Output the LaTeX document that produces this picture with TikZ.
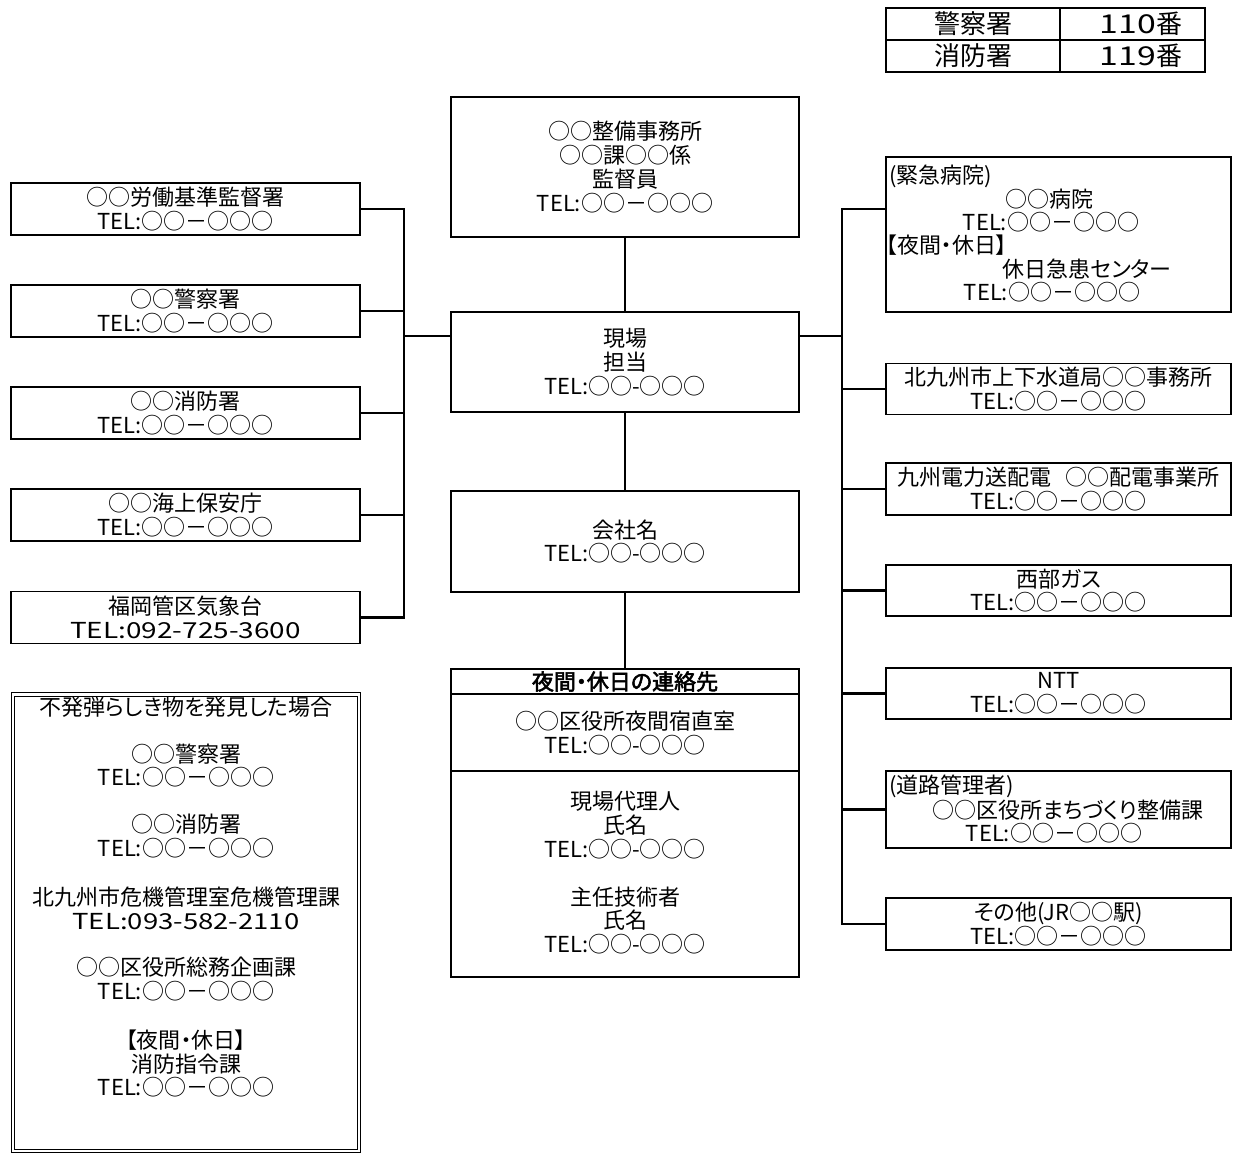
\documentclass[tikz,border=0pt]{standalone}
\usepackage{fontspec}
\setmainfont{Noto Sans CJK JP}[AutoFakeBold=2.5, RawFeature=+palt]
\newcommand\fsz{\fontsize{22}{23.75}\selectfont}
\newcommand\fbig{\fontsize{26}{26}\selectfont}
\newcommand\widen[2]{\scalebox{#1}[1]{#2}}
\tikzset{
  bx/.style={draw, line width=1.3pt, inner sep=0pt, align=center, font=\fsz},
  ln/.style={line width=2.2pt},
  tx/.style={inner sep=0pt, align=center, font=\fsz},
  lb/.style={bx, minimum width=349pt, minimum height=52pt},
  cb/.style={bx, minimum width=348pt},
  rb/.style={bx, minimum width=345pt, minimum height=51pt},
}
\begin{document}
\begin{tikzpicture}[x=1pt,y=-1pt]
\useasboundingbox (0,0) rectangle (1233,1156);
% top right table
\draw[line width=1.3pt] (886,8) rectangle (1205,72);
\draw[line width=1.3pt] (886,40) -- (1205,40) (1060,8) -- (1060,72);
\node[tx,font=\fbig] (ta) at (973,24) {警察署};
\node[tx,font=\fbig] (tb) at (1141,24) {\widen{1.3}{110}番};
\node[tx,font=\fbig] (tc) at (973,56) {消防署};
\node[tx,font=\fbig] (td) at (1141,56) {\widen{1.3}{119}番};
% left boxes
\node[lb] (l1) at (185.5,209) {○○労働基準監督署\\TEL:○○－○○○};
\node[lb] (l2) at (185.5,311) {○○警察署\\TEL:○○－○○○};
\node[lb] (l3) at (185.5,413) {○○消防署\\TEL:○○－○○○};
\node[lb] (l4) at (185.5,515) {○○海上保安庁\\TEL:○○－○○○};
\node[lb] (l5) at (185.5,617.5) {福岡管区気象台\\\widen{1.27}{TEL:092-725-3600}};
% center boxes
\node[cb, minimum height=140pt] (top) at (625,167) {○○整備事務所\\○○課○○係\\監督員\\TEL:○○－○○○};
\node[cb, minimum height=100pt] (genba) at (625,362) {現場\\担当\\TEL:○○-○○○};
\node[cb, minimum height=101pt] (kaisha) at (625,541.5) {会社名\\TEL:○○-○○○};
\node[cb, minimum height=308pt] (night) at (625,823) {};
\draw[line width=1.3pt] (night.west |- 0,694) -- (night.east |- 0,694);
\draw[line width=1.3pt] (night.west |- 0,771) -- (night.east |- 0,771);
\node[tx] (nh) at (625,681.5) {\textbf{夜間・休日の連絡先}};
\node[tx] (n1) at (625,733) {○○区役所夜間宿直室\\TEL:○○-○○○};
\node[tx] (n2) at (625,825) {現場代理人\\氏名\\TEL:○○-○○○};
\node[tx] (n3) at (625,920.5) {主任技術者\\氏名\\TEL:○○-○○○};
% right boxes
\node[rb, minimum height=155pt] (r1) at (1058.5,234.5) {};
\node[tx, anchor=west] (r1a) at (889,176) {(緊急病院)};
\node[tx] (r1b) at (1049,199) {○○病院};
\node[tx] (r1c) at (1051,222) {TEL:○○－○○○};
\node[tx, anchor=west] (r1d) at (886,245) {【夜間・休日】};
\node[tx] (r1e) at (1087,269) {休日急患センター};
\node[tx] (r1f) at (1052,292) {TEL:○○－○○○};
\node[rb] (r2) at (1058.5,389) {北九州市上下水道局○○事務所\\TEL:○○－○○○};
\node[rb, minimum height=52pt] (r3) at (1058.5,489) {九州電力送配電\hspace{0.6em}○○配電事業所\\TEL:○○－○○○};
\node[rb] (r4) at (1058.5,590.5) {西部ガス\\TEL:○○－○○○};
\node[rb] (r5) at (1058.5,693.5) {NTT\\TEL:○○－○○○};
\node[rb, minimum height=77pt] (r6) at (1058.5,809.5) {};
\node[tx, anchor=west] (r6a) at (889,786) {(道路管理者)};
\node[tx] (r6b) at (1068,810) {○○区役所まちづくり整備課};
\node[tx] (r6c) at (1054,833) {TEL:○○－○○○};
\node[rb, minimum height=52pt] (r7) at (1058.5,924) {その他(JR○○駅)\\TEL:○○－○○○};
% bomb box
\draw[line width=1pt, double, double distance=2.5pt] (13,694.5) rectangle (359,1151);
\node[tx] (b1) at (186,707) {不発弾らしき物を発見した場合};
\node[tx] (b2) at (186,765.5) {○○警察署\\TEL:○○－○○○};
\node[tx] (b3) at (186,836) {○○消防署\\TEL:○○－○○○};
\node[tx] (b4) at (186,908.5) {北九州市危機管理室危機管理課\\\widen{1.25}{TEL:093-582-2110}};
\node[tx] (b5) at (186,979) {○○区役所総務企画課\\TEL:○○－○○○};
\node[tx] (b6) at (186,1063.5) {【夜間・休日】\\消防指令課\\TEL:○○－○○○};
% connectors
\coordinate (lbx) at (404,0);
\coordinate (lbus) at (404,336);
\coordinate (rbx) at (842,0);
\coordinate (rbus) at (842,336);
\coordinate (r1in) at (886,209);
\draw[ln] (top.south) -- (genba.north);
\draw[ln] (genba.south) -- (kaisha.north);
\draw[ln] (kaisha.south) -- (night.north);
\draw[ln] (genba.west |- lbus) -- (lbus);
\draw[ln] (genba.east |- rbus) -- (rbus);
\draw[ln] (l1.east) -- (l1.east -| lbx) -- (l5.east -| lbx) -- (l5.east);
\draw[ln] (l2.east) -- (l2.east -| lbx);
\draw[ln] (l3.east) -- (l3.east -| lbx);
\draw[ln] (l4.east) -- (l4.east -| lbx);
\draw[ln] (r1in) -- (r1in -| rbx) -- (r7.west -| rbx) -- (r7.west);
\draw[ln] (r2.west) -- (r2.west -| rbx);
\draw[ln] (r3.west) -- (r3.west -| rbx);
\draw[ln] (r4.west) -- (r4.west -| rbx);
\draw[ln] (r5.west) -- (r5.west -| rbx);
\draw[ln] (r6.west) -- (r6.west -| rbx);
\end{tikzpicture}
\end{document}
